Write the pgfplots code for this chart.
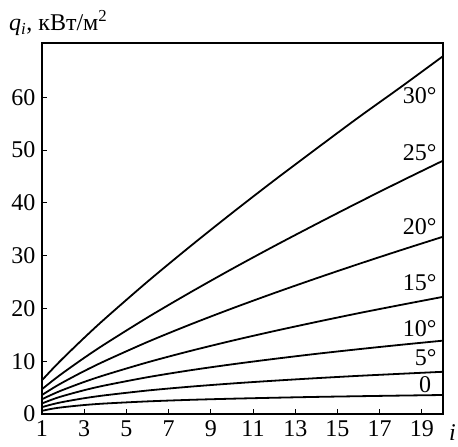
\documentclass[border=0pt]{standalone}
\usepackage{fontspec}
\setmainfont{Liberation Serif}
\usepackage{pgfplots}
\pgfplotsset{compat=1.18}
\tikzset{crv/.style={black, solid, line width=1.8pt, smooth, mark=none}}
\begin{document}
\begin{tikzpicture}
\begin{axis}[
  scale only axis,
  width=401pt, height=371pt,
  xmin=1, xmax=20, ymin=0, ymax=70.3,
  xtick={1,3,...,19}, ytick={0,10,...,60},
  tick align=inside, xtick pos=bottom, ytick pos=left,
  major tick length=5pt,
  axis line style={line width=1.2pt},
  tick style={line width=0.9pt, black},
  /pgf/number format/assume math mode=true,
  ticklabel style={font=\fontsize{24}{28}\selectfont},
  xticklabel style={yshift=-3pt},
  yticklabel style={xshift=-3pt},
  clip=false,
]
\addplot[crv] coordinates {(1,6.4)(1.5,8.54)(2,10.58)(3,14.44)(4,18.12)(6,25.08)(8,31.69)(10,38.07)(12,44.26)(14,50.27)(16,56.21)(18,61.94)(20,67.8)};
\addplot[crv] coordinates {(1,4.7)(1.5,6.30)(2,7.81)(3,10.64)(4,13.30)(6,18.29)(8,22.98)(10,27.48)(12,31.81)(14,36.0)(16,40.10)(18,44.10)(20,48.0)};
\addplot[crv] coordinates {(1,3.6)(1.5,4.86)(2,6.02)(3,8.14)(4,10.08)(6,13.65)(8,16.92)(10,19.99)(12,22.91)(14,25.71)(16,28.42)(18,31.04)(20,33.59)};
\addplot[crv] coordinates {(1,2.8)(1.5,3.74)(2,4.58)(3,6.08)(4,7.41)(6,9.79)(8,11.92)(10,13.88)(12,15.71)(14,17.44)(16,19.10)(18,20.67)(20,22.2)};
\addplot[crv] coordinates {(1,2.0)(1.5,2.77)(2,3.42)(3,4.51)(4,5.43)(6,6.97)(8,8.27)(10,9.41)(12,10.44)(14,11.40)(16,12.28)(18,13.11)(20,13.9)};
\addplot[crv] coordinates {(1,1.3)(1.5,1.85)(2,2.29)(3,2.99)(4,3.55)(6,4.45)(8,5.17)(10,5.78)(12,6.31)(14,6.79)(16,7.23)(18,7.62)(20,8.0)};
\addplot[crv] coordinates {(1,0.6)(1.5,1.01)(2,1.29)(3,1.70)(4,1.99)(6,2.39)(8,2.68)(10,2.90)(12,3.08)(14,3.24)(16,3.37)(18,3.49)(20,3.60)};
\begin{scope}[every node/.style={anchor=east, inner sep=0pt, font=\fontsize{24}{28}\selectfont}]
\node at (axis cs:19.7,60.4) {30°};
\node at (axis cs:19.7,49.6) {25°};
\node at (axis cs:19.7,35.5) {20°};
\node at (axis cs:19.7,24.9) {15°};
\node at (axis cs:19.7,16.2) {10°};
\node at (axis cs:19.7,10.7) {5°};
\node at (axis cs:19.45,5.5) {0};
\end{scope}
\node[anchor=base west, inner sep=0pt, font=\fontsize{24}{28}\selectfont] at ([xshift=-33pt,yshift=12pt]rel axis cs:0,1) {\textit{q}\textsubscript{\textit{i}}, кВт/м\textsuperscript{2}};
\node[anchor=base west, inner sep=0pt, font=\fontsize{24}{28}\selectfont] at ([xshift=6pt,yshift=-27pt]rel axis cs:1,0) {\textit{i}};
\end{axis}
\path (-42pt,-33pt) rectangle (416pt,414pt);
\end{tikzpicture}
\end{document}
